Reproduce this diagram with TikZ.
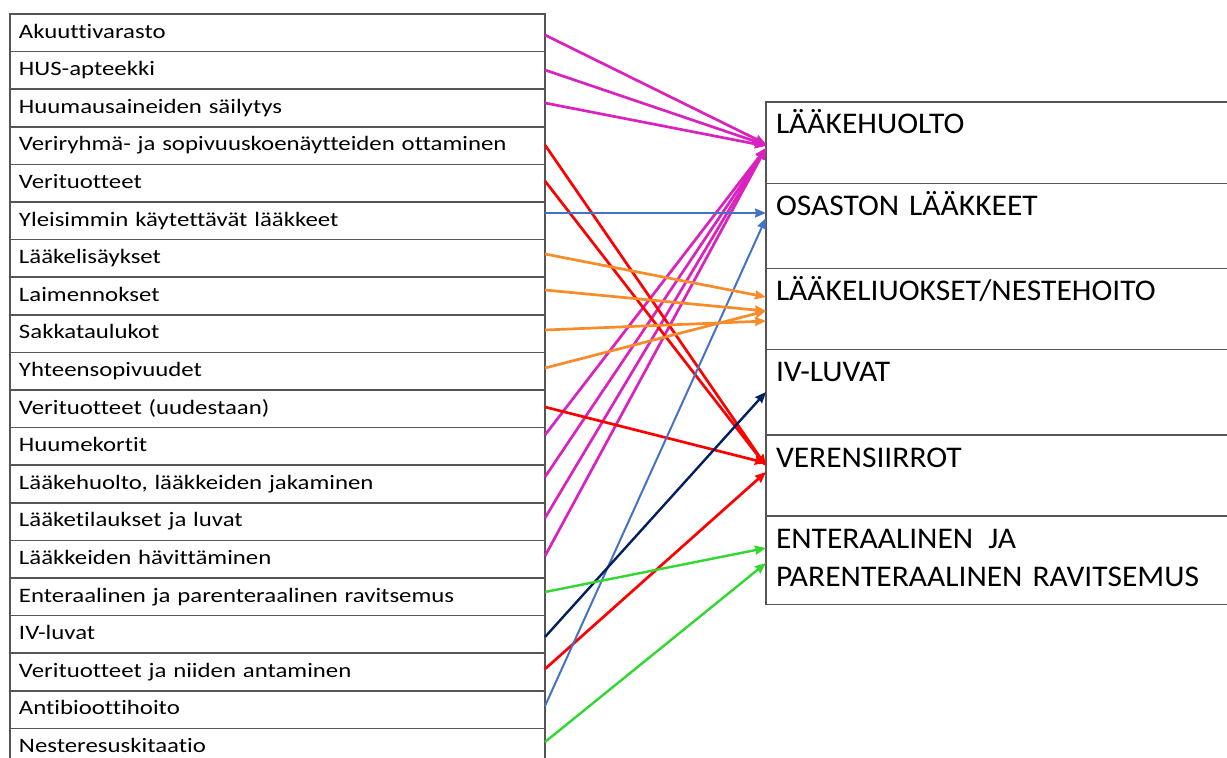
\documentclass[tikz,border=0pt]{standalone}
\usepackage{fontspec}
\setmainfont{Carlito}[Ligatures=NoCommon]
\newfontfamily\lfont[FakeStretch=1.21,Ligatures=NoCommon]{Carlito}
\newfontfamily\rfont[FakeStretch=1.05,Ligatures=NoCommon]{Carlito}
\usetikzlibrary{arrows.meta}
\definecolor{gridc}{RGB}{85,85,85}
\definecolor{pinkc}{RGB}{218,34,190}
\definecolor{redc}{RGB}{255,0,0}
\definecolor{bluec}{RGB}{68,114,196}
\definecolor{orangec}{RGB}{247,140,40}
\definecolor{navyc}{RGB}{0,32,96}
\definecolor{greenc}{RGB}{50,215,50}
\begin{document}
\begin{tikzpicture}[x=1pt,y=-1pt,
  lrow/.style={draw=gridc, line width=1.6pt, anchor=north west, outer sep=0pt,
    inner xsep=9pt, inner ysep=0pt, text width=517pt, align=left,
    text height=24pt, text depth=13.6pt, font=\lfont\fontsize{20.5}{24}\selectfont},
  rrow/.style={draw=gridc, line width=1.6pt, anchor=north west, outer sep=0pt,
    inner xsep=10pt, inner ysep=0pt, text width=454pt, align=left,
    text height=32pt, font=\rfont\fontsize{30}{38.7}\selectfont},
  conn/.style={line width=2.7pt, -{Stealth[length=11pt,width=9pt,inset=1pt]}},
  thin/.style={line width=2pt}
]
\useasboundingbox (0,0) rectangle (1227,758);
\fill[white] (0,0) rectangle (1227,758);
% left table
\node[lrow] (l0) at (10,14.0) {Akuuttivarasto};
\node[lrow] (l1) at (10,51.6) {HUS-apteekki};
\node[lrow] (l2) at (10,89.2) {Huumausaineiden säilytys};
\node[lrow] (l3) at (10,126.8) {Veriryhmä- ja sopivuuskoenäytteiden ottaminen};
\node[lrow] (l4) at (10,164.4) {Verituotteet};
\node[lrow] (l5) at (10,202.0) {Yleisimmin käytettävät lääkkeet};
\node[lrow] (l6) at (10,239.6) {Lääkelisäykset};
\node[lrow] (l7) at (10,277.2) {Laimennokset};
\node[lrow] (l8) at (10,314.8) {Sakkataulukot};
\node[lrow] (l9) at (10,352.4) {Yhteensopivuudet};
\node[lrow] (l10) at (10,390.0) {Verituotteet (uudestaan)};
\node[lrow] (l11) at (10,427.6) {Huumekortit};
\node[lrow] (l12) at (10,465.2) {Lääkehuolto, lääkkeiden jakaminen};
\node[lrow] (l13) at (10,502.8) {Lääketilaukset ja luvat};
\node[lrow] (l14) at (10,540.4) {Lääkkeiden hävittäminen};
\node[lrow] (l15) at (10,578.0) {Enteraalinen ja parenteraalinen ravitsemus};
\node[lrow] (l16) at (10,615.6) {IV-luvat};
\node[lrow] (l17) at (10,653.2) {Verituotteet ja niiden antaminen};
\node[lrow] (l18) at (10,690.8) {Antibioottihoito};
\node[lrow] (l19) at (10,728.4) {Nesteresuskitaatio};
% right table
\node[rrow, text depth=49.8pt] (r1) at (766,101.7) {LÄÄKEHUOLTO};
\node[rrow, text depth=52.8pt] (r2) at (766,183.5) {OSASTON LÄÄKKEET};
\node[rrow, text depth=49.2pt] (r3) at (766,268.3) {LÄÄKELIUOKSET/NESTEHOITO};
\node[rrow, text depth=53.5pt] (r4) at (766,349.5) {IV-LUVAT};
\node[rrow, text depth=49.0pt] (r5) at (766,435.0) {VERENSIIRROT};
\node[rrow, text depth=56.3pt] (r6) at (766,516.0) {ENTERAALINEN\hspace{5pt} JA\\PARENTERAALINEN\hspace{0pt} RAVITSEMUS};
% connectors
\draw[conn, pinkc] (l0.east |- 0,35) -- (r1.west |- 0,144);
\draw[conn, pinkc] (l1.east |- 0,70) -- (r1.west |- 0,145);
\draw[conn, pinkc] (l2.east |- 0,103) -- (r1.west |- 0,146);
\draw[conn, pinkc] (l11.east |- 0,435) -- (r1.west |- 0,148);
\draw[conn, pinkc] (l12.east |- 0,477) -- (r1.west |- 0,148);
\draw[conn, pinkc] (l13.east |- 0,518) -- (r1.west |- 0,148);
\draw[conn, pinkc] (l14.east |- 0,556) -- (r1.west |- 0,148);
\draw[conn, redc] (l3.east |- 0,145) -- (r5.west |- 0,466);
\draw[conn, redc] (l4.east |- 0,181) -- (r5.west |- 0,466);
\draw[conn, redc] (l10.east |- 0,407) -- (r5.west |- 0,463);
\draw[conn, redc] (l17.east |- 0,669) -- (r5.west |- 0,472);
\draw[conn, thin, bluec] (l5.east |- 0,213) -- (r2.west |- 0,213);
\draw[conn, thin, bluec] (l18.east |- 0,706) -- (r2.west |- 0,218);
\draw[conn, orangec] (l6.east |- 0,254) -- (r3.west |- 0,297);
\draw[conn, orangec] (l7.east |- 0,290) -- (r3.west |- 0,311);
\draw[conn, orangec] (l8.east |- 0,330) -- (r3.west |- 0,321);
\draw[conn, orangec] (l9.east |- 0,368) -- (r3.west |- 0,311);
\draw[conn, line width=2.4pt, navyc] (l16.east |- 0,637) -- (r4.west |- 0,392);
\draw[conn, line width=2.4pt, greenc] (l15.east |- 0,592) -- (r6.west |- 0,548);
\draw[conn, line width=2.4pt, greenc] (l19.east |- 0,742) -- (r6.west |- 0,563);
\end{tikzpicture}
\end{document}
